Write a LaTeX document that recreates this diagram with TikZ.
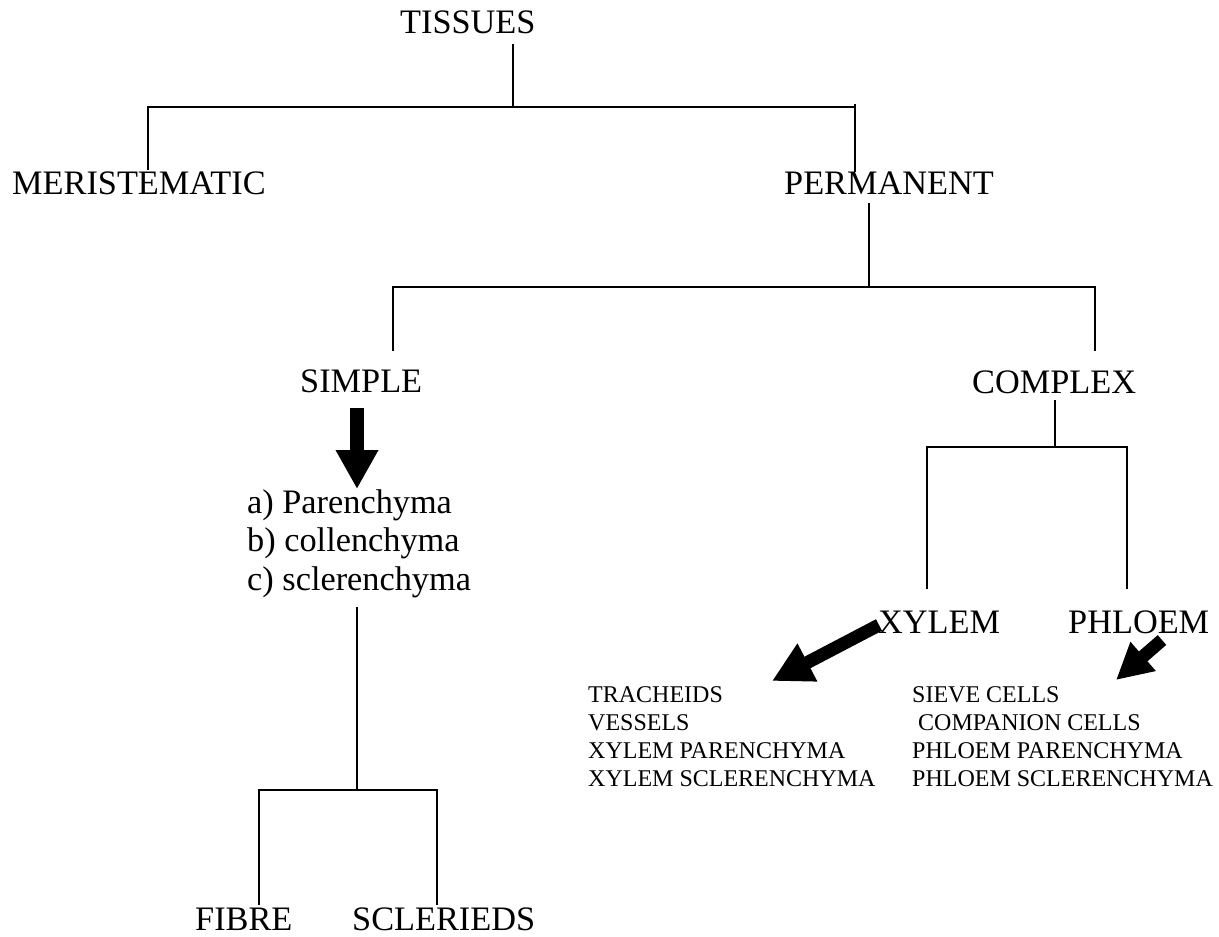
\documentclass[tikz,border=0pt]{standalone}
\usepackage{fontspec}
\setmainfont{Liberation Serif}
\usetikzlibrary{arrows.meta}
\begin{document}
\begin{tikzpicture}[x=1pt,y=-1pt,
  branch/.style={line width=1.8pt, line cap=butt},
  head/.style={font=\fontsize{34.3}{39}\selectfont, anchor=base west, inner sep=0pt},
  item/.style={font=\fontsize{24}{27.6}\selectfont, anchor=base west, inner sep=0pt},
  bigarrow/.style={line width=14pt, -{Triangle[length=39pt,width=40pt]}},
  slantarrow/.style={line width=13pt, -{Triangle[length=40pt,width=40pt]}},
  shortarrow/.style={line width=13pt, -{Triangle[length=36pt,width=36pt]}}
]
\useasboundingbox (0,0) rectangle (1219,937);

% ---- level 0 and 1 ----
\node[head] (tissues) at (400,33) {TISSUES};
\node[head] (meri) at (12,194) {MERISTEMATIC};
\node[head] (perm) at (784,194) {PERMANENT};

\coordinate (tStem) at (513,44);
\coordinate (tJoin) at (513,107);
\coordinate (tL) at (148,107);
\coordinate (tR) at (855,107);
\coordinate (meriTop) at (148,170);
\coordinate (permTop) at (855,172);
\draw[branch] (tStem) -- (tJoin);
\draw[branch] (meriTop) -- (tL) -- (tR);
\draw[branch] (855,104) -- (permTop);

% ---- permanent: simple / complex ----
\node[head] (simple) at (300,392) {SIMPLE};
\node[head] (complex) at (972,393) {COMPLEX};

\coordinate (pStem) at (869,203);
\coordinate (pJoin) at (869,287);
\coordinate (pL) at (393,287);
\coordinate (pR) at (1095,287);
\coordinate (simpleTop) at (393,351);
\coordinate (complexTop) at (1095,351);
\draw[branch] (pStem) -- (pJoin);
\draw[branch] (simpleTop) -- (pL) -- (pR) -- (complexTop);

% ---- simple tissues ----
\coordinate (sArrowStart) at (357,408);
\coordinate (sArrowTip) at (357,489);
\draw[bigarrow] (sArrowStart) -- (sArrowTip);

\node[head] (parA) at (247,513) {a) Parenchyma};
\node[head] (parB) at (247,551.5) {b) collenchyma};
\node[head] (parC) at (247,590) {c) sclerenchyma};

\coordinate (scStem) at (357,607);
\coordinate (scJoin) at (357,790);
\coordinate (scL) at (259,790);
\coordinate (scR) at (437,790);
\coordinate (fibreTop) at (259,905);
\coordinate (sclerTop) at (437,905);
\draw[branch] (scStem) -- (scJoin);
\draw[branch] (fibreTop) -- (scL) -- (scR) -- (sclerTop);

\node[head] (fibre) at (195,930) {FIBRE};
\node[head] (sclereids) at (352,930) {SCLERIEDS};

% ---- complex tissues ----
\coordinate (cStem) at (1055,400);
\coordinate (cJoin) at (1055,447);
\coordinate (cL) at (927,447);
\coordinate (cR) at (1127,447);
\coordinate (xylemTop) at (927,589);
\coordinate (phloemTop) at (1127,589);
\draw[branch] (cStem) -- (cJoin);
\draw[branch] (xylemTop) -- (cL) -- (cR) -- (phloemTop);

\node[head] (xylem) at (878,633) {XYLEM};
\node[head] (phloem) at (1068,633) {PHLOEM};

\coordinate (xArrowStart) at (879,625);
\coordinate (xArrowTip) at (772,681);
\draw[slantarrow] (xArrowStart) -- (xArrowTip);

\coordinate (phArrowStart) at (1162,640);
\coordinate (phArrowTip) at (1116,680);
\draw[shortarrow] (phArrowStart) -- (phArrowTip);

% ---- xylem elements ----
\node[item] (tracheids) at (588,702) {TRACHEIDS};
\node[item] (vessels) at (588,730) {VESSELS};
\node[item] (xpar) at (588,758) {XYLEM PARENCHYMA};
\node[item] (xscl) at (588,786) {XYLEM SCLERENCHYMA};

% ---- phloem elements ----
\node[item] (sieve) at (912,702) {SIEVE CELLS};
\node[item] (companion) at (918,730) {COMPANION CELLS};
\node[item] (ppar) at (912,758) {PHLOEM PARENCHYMA};
\node[item] (pscl) at (912,786) {PHLOEM SCLERENCHYMA};
\end{tikzpicture}
\end{document}
